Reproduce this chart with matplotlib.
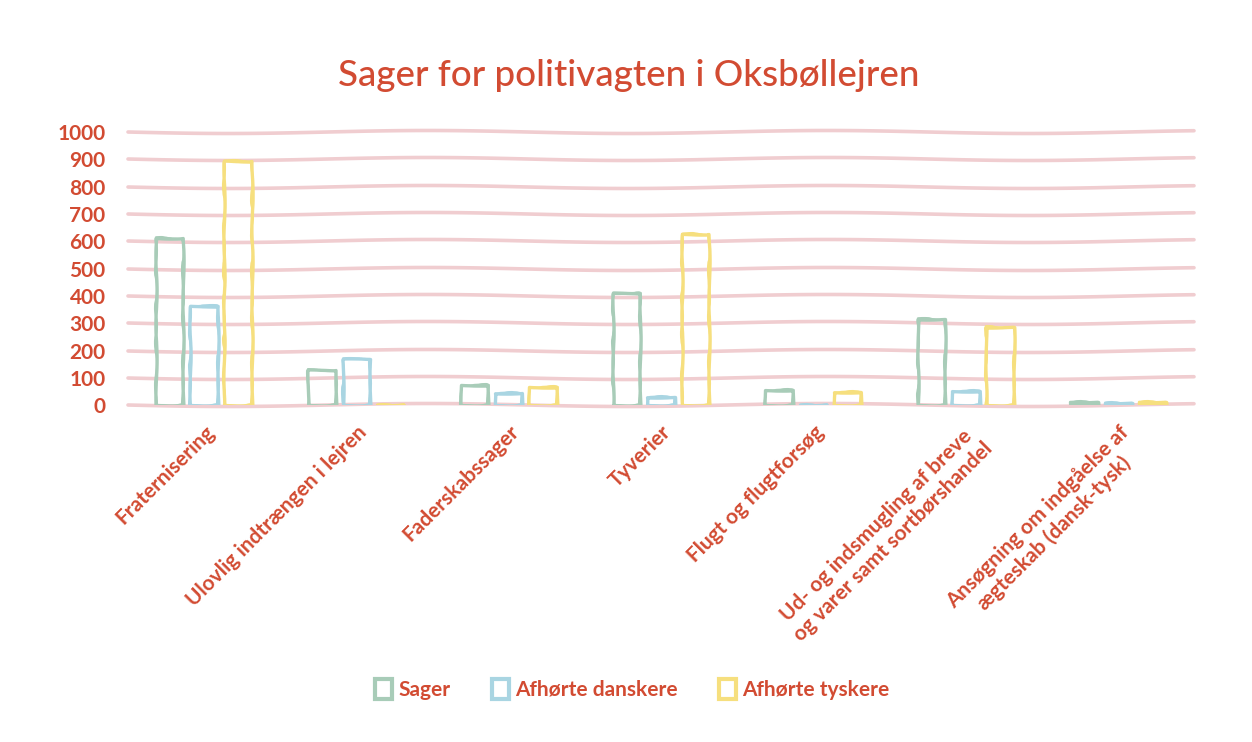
import matplotlib
matplotlib.use("Agg")
import matplotlib.pyplot as plt
import numpy as np
from matplotlib.patches import Patch

categories = [
    "Fraternisering",
    "Ulovlig indtrængen i lejren",
    "Faderskabssager",
    "Tyverier",
    "Flugt og flugtforsøg",
    "Ud- og indsmugling af breve\nog varer samt sortbørshandel",
    "Ansøgning om indgåelse af\nægteskab (dansk-tysk)",
]
series_names = ["Sager", "Afhørte danskere", "Afhørte tyskere"]
sager = [612, 130, 72, 410, 55, 315, 10]
danskere = [362, 168, 45, 30, 2, 52, 8]
tyskere = [893, 2, 68, 625, 48, 285, 10]
yticks = [0, 100, 200, 300, 400, 500, 600, 700, 800, 900, 1000]

title = "Sager for politivagten i Oksbøllejren"
red = "#D24B32"
colors = ["#A8CCB8", "#A9D5E2", "#F6DF7E"]
grid_col = "#F0CDD0"

plt.rcParams["font.family"] = ["Lato", "DejaVu Sans"]

fig = plt.figure(figsize=(12.52, 7.42), dpi=100)
ax = fig.add_axes([0.102, 0.454, 0.852, 0.368])

x = np.arange(len(categories))
offsets = [-0.225, 0.0, 0.225]
width = 0.18
for vals, off, c in zip([sager, danskere, tyskere], offsets, colors):
    for lw, sk in [(2.4, (0.6, 80, 2)), (1.5, (1.0, 50, 3))]:
        bars = ax.bar(x + off, vals, width, fill=False, edgecolor=c, linewidth=lw,
                      zorder=3)
        for b in bars:
            b.set_sketch_params(*sk)
            b.set_joinstyle("round")

# wavy hand-drawn grid
for yv in yticks:
    ln, = ax.plot([-0.5, len(categories) - 0.5], [yv, yv], color=grid_col, lw=2.6,
                  zorder=1, solid_capstyle="round", clip_on=False)
    ln.set_sketch_params(1.5, 400, 1)

ax.set_xlim(-0.5, len(categories) - 0.5)
ax.set_ylim(0, 1000)
ax.set_yticks(yticks)
ax.set_yticklabels([str(v) for v in yticks])
for s in ax.spines.values():
    s.set_visible(False)
ax.tick_params(axis="both", length=0, colors=red)
ax.tick_params(axis="y", pad=16, labelsize=15)
for t in ax.get_yticklabels():
    t.set_fontweight("bold")
    t.set_color(red)

ax.set_xticks(x)
ax.set_xticklabels(categories, rotation=45, ha="right", rotation_mode="anchor",
                   multialignment="center", fontsize=15, fontweight="bold", color=red)
ax.tick_params(axis="x", pad=12)

fig.text(0.502, 0.898, title, ha="center", va="center", fontsize=26.5, color=red,
         fontweight="medium")

handles = [Patch(facecolor="none", edgecolor=c, linewidth=3) for c in colors]
leg = fig.legend(handles, series_names, loc="center", bbox_to_anchor=(0.505, 0.071),
                 ncol=3, frameon=False, handlelength=0.8, handleheight=1.1,
                 handletextpad=0.3, columnspacing=2.0,
                 prop={"size": 15, "weight": "bold"})
for t in leg.get_texts():
    t.set_color(red)

fig.savefig("out.png", dpi=100, facecolor="white")
